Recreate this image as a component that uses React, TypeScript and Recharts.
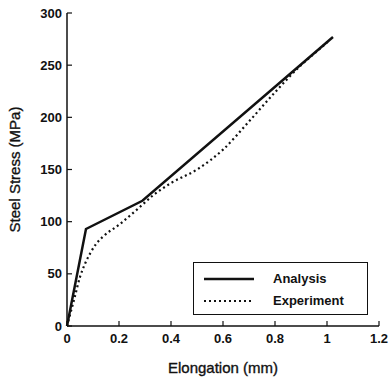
import { Label, Line, LineChart, XAxis, YAxis } from "recharts";

// elongation (mm) / steel stress (MPa)
const analysisX = [0, 0.073, 0.29, 1.023];
const analysisY = [0, 93, 120, 277];

const experimentX = [0, 0.03, 0.05, 0.07, 0.09, 0.11, 0.14, 0.2, 0.28, 0.33, 0.4, 0.5, 0.6, 0.7, 0.8, 0.9, 0.96, 1.01];
const experimentY = [0, 28, 47, 60, 70, 78, 86, 97, 114, 125, 137, 150, 169, 196, 224, 250, 263, 274];

const xTicks = [0, 0.2, 0.4, 0.6, 0.8, 1, 1.2];
const yTicks = [0, 50, 100, 150, 200, 250, 300];

const FONT = "'Liberation Sans', Arial, Helvetica, sans-serif";
const INK = "#111";

const analysis = analysisX.map((x, i) => ({ x, y: analysisY[i] }));
const experiment = experimentX.map((x, i) => ({ x, y: experimentY[i] }));

const tickStyle = { fill: INK, fontSize: 13, fontWeight: 700, fontFamily: FONT };
const titleStyle = { fill: INK, stroke: INK, strokeWidth: 0.35, fontSize: 15, fontFamily: FONT };

export default function App() {
  return (
    <div style={{ position: "absolute", left: 0, top: 0, width: 389, height: 380, background: "#fff" }}>
      <LineChart width={389} height={380} margin={{ top: 13, right: 10, left: 0, bottom: 0 }}>
        <XAxis
          type="number"
          dataKey="x"
          domain={[0, 1.2]}
          ticks={xTicks}
          tickFormatter={(v) => String(v)}
          height={54}
          tick={tickStyle}
          tickSize={-5}
          tickMargin={13}
          axisLine={{ stroke: INK, strokeWidth: 1.5 }}
          tickLine={{ stroke: INK, strokeWidth: 1.2 }}
        >
          <Label value="Elongation (mm)" position="insideBottom" offset={7} style={titleStyle} />
        </XAxis>
        <XAxis xAxisId="top" orientation="top" type="number" domain={[0, 1.2]} height={0} tick={false} tickLine={false} axisLine={{ stroke: "#555" }} />
        <YAxis
          type="number"
          dataKey="y"
          domain={[0, 300]}
          ticks={yTicks}
          width={67}
          tick={tickStyle}
          tickSize={-5}
          tickMargin={10}
          axisLine={{ stroke: INK, strokeWidth: 1.5 }}
          tickLine={{ stroke: INK, strokeWidth: 1.2 }}
        >
          <Label
            value="Steel Stress (MPa)"
            angle={-90}
            position="insideLeft"
            offset={15}
            style={{ ...titleStyle, textAnchor: "middle" }}
          />
        </YAxis>
        <YAxis yAxisId="right" orientation="right" type="number" domain={[0, 300]} width={0} tick={false} tickLine={false} axisLine={{ stroke: INK }} />
        <Line
          data={analysis}
          dataKey="y"
          type="linear"
          stroke={INK}
          strokeWidth={2.5}
          dot={false}
          isAnimationActive={false}
        />
        <Line
          data={experiment}
          dataKey="y"
          type="monotone"
          stroke={INK}
          strokeWidth={2.2}
          strokeDasharray="2 3"
          dot={false}
          isAnimationActive={false}
        />
      </LineChart>
      <div
        style={{
          position: "absolute",
          left: 193,
          top: 262,
          width: 173,
          height: 51,
          border: `1px solid ${INK}`,
          background: "#fff",
          fontFamily: FONT,
          fontSize: 13,
          fontWeight: 700,
          color: INK,
        }}
      >
        <svg width={60} height={51} style={{ position: "absolute", left: 0, top: 0 }}>
          <line x1={10} x2={60} y1={16} y2={16} stroke={INK} strokeWidth={2.5} />
          <line x1={10} x2={60} y1={38} y2={38} stroke={INK} strokeWidth={2.2} strokeDasharray="2 3" />
        </svg>
        <div style={{ position: "absolute", left: 79, top: 8, lineHeight: "16px" }}>Analysis</div>
        <div style={{ position: "absolute", left: 79, top: 30, lineHeight: "16px" }}>Experiment</div>
      </div>
    </div>
  );
}
